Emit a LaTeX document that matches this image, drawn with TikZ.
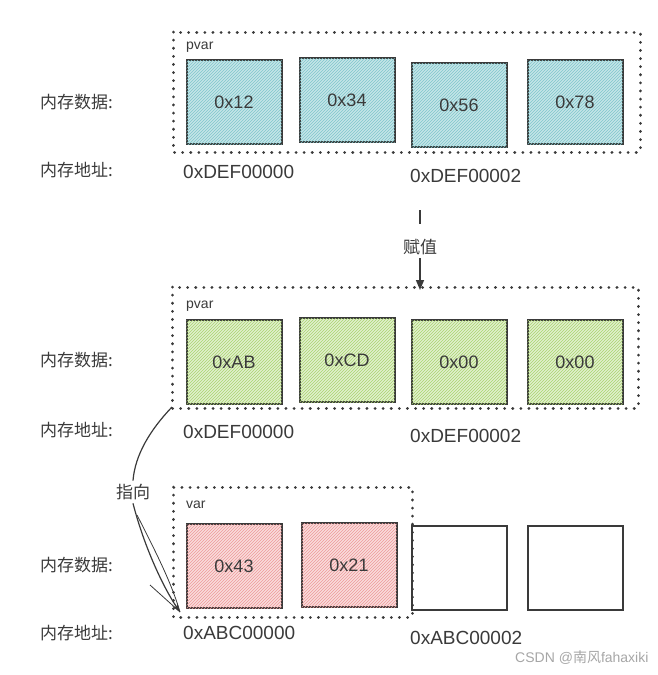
\documentclass[tikz,border=0pt]{standalone}
\usepackage{fontspec}
\setmainfont{Liberation Sans}
\newfontfamily\cjk{Noto Sans CJK SC}
\usetikzlibrary{patterns,arrows.meta}
\definecolor{tealc}{HTML}{7FC6CB}
\definecolor{greenc}{HTML}{A9D46F}
\definecolor{redc}{HTML}{EE9A9A}
\definecolor{ink}{HTML}{3A3A3A}
\tikzset{
 cell/.style={draw=ink,line width=2pt,minimum width=95pt,minimum height=84pt,inner sep=0pt,font=\fontsize{18}{18}\selectfont,text=ink},
 tcell/.style={cell,fill=tealc!45,postaction={pattern=north east lines,pattern color=tealc}},
 gcell/.style={cell,fill=greenc!35,postaction={pattern=north east lines,pattern color=greenc}},
 rcell/.style={cell,fill=redc!35,postaction={pattern=north east lines,pattern color=redc}},
 frame/.style={draw=ink,line width=3pt,dash pattern=on 0.1pt off 8pt,line cap=round},
 lab/.style={font=\cjk\fontsize{17}{17}\selectfont,text=ink,anchor=west,inner sep=0pt},
 addr/.style={font=\fontsize{19}{19}\selectfont,text=ink,anchor=west,inner sep=0pt},
 tag/.style={font=\fontsize{14}{14}\selectfont,text=ink,anchor=west,inner sep=0pt}
}
\begin{document}
\begin{tikzpicture}[x=1pt,y=-1pt]
\useasboundingbox (0,0) rectangle (658,675);
% top
\draw[frame] (173,32) rectangle (640,152);
\node[tag] (t1) at (186,47) {pvar};
\node[tcell] (a1) at (234,102) {0x12};
\node[tcell] (a2) at (347,100) {0x34};
\node[tcell] (a3) at (459,105) {0x56};
\node[tcell] (a4) at (575,102) {0x78};
\node[lab] (l1) at (40,102) {内存数据:};
\node[lab] (l2) at (40,170) {内存地址:};
\node[addr] (d1) at (183,172) {0xDEF00000};
\node[addr] (d2) at (410,176) {0xDEF00002};
% arrow
\coordinate (s) at (420,210);
\node[font=\cjk\fontsize{17}{17}\selectfont,text=ink] (fz) at (420,247) {赋值};
\coordinate (e) at (420,290);
\draw[ink,line width=1.5pt] (s) -- (420,224);
\draw[ink,line width=1.5pt,-{Triangle[width=8pt,length=10pt]}] (fz.south) -- (e);
% middle
\draw[frame] (172,287) rectangle (638,408);
\node[tag] (t2) at (186,306) {pvar};
\node[gcell] (b1) at (234,362) {0xAB};
\node[gcell] (b2) at (347,360) {0xCD};
\node[gcell] (b3) at (459,362) {0x00};
\node[gcell] (b4) at (575,362) {0x00};
\node[lab] (l3) at (40,360) {内存数据:};
\node[lab] (l4) at (40,430) {内存地址:};
\node[addr] (d3) at (183,432) {0xDEF00000};
\node[addr] (d4) at (410,436) {0xDEF00002};
% bottom
\draw[frame] (173,487) rectangle (412,617);
\node[tag] (t3) at (186,505) {var};
\node[rcell] (c1) at (234,566) {0x43};
\node[rcell] (c2) at (349,565) {0x21};
\node[cell] (c3) at (459,568) {};
\node[cell] (c4) at (575,568) {};
\node[lab] (l5) at (40,565) {内存数据:};
\node[lab] (l6) at (40,633) {内存地址:};
\node[addr] (d5) at (183,633) {0xABC00000};
\node[addr] (d6) at (410,638) {0xABC00002};
% pointer
\node[font=\cjk\fontsize{17}{17}\selectfont,text=ink] (zx) at (133,492) {指向};
\coordinate (p0) at (172,407);
\coordinate (p1) at (180,612);
\draw[ink,line width=1.2pt] (p0) .. controls (150,430) and (135,455) .. (zx.north);
\draw[ink,line width=1.2pt,-{Stealth[length=9pt,width=6pt]}] (zx.south) .. controls (145,550) and (165,590) .. (p1);
\draw[ink,line width=0.8pt] (137,515) .. controls (160,560) and (172,585) .. (p1);
\draw[ink,line width=0.8pt] (150,585) -- (p1);
\node[font=\fontsize{14}{14}\selectfont,text=gray!70,anchor=east] (wm) at (652,658) {CSDN @{\cjk 南风}fahaxiki};
\end{tikzpicture}
\end{document}
